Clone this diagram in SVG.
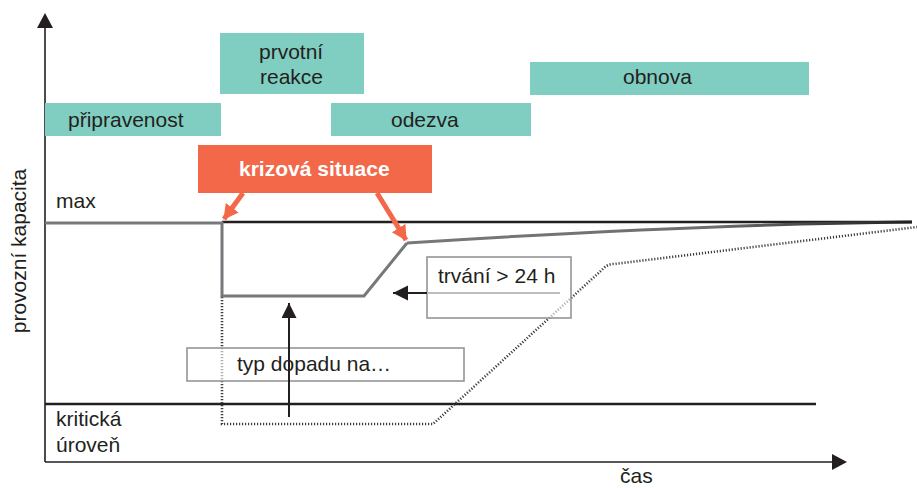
<svg xmlns="http://www.w3.org/2000/svg" width="917" height="488" viewBox="0 0 917 488">
  <defs>
    <style>
      text { font-family: "Liberation Sans", Arial, sans-serif; font-size: 21px; fill: #231f20; }
      .phase { fill: #80cdc1; }
      .crisis { fill: #f26849; }
      .crisis-text { fill: #ffffff; font-weight: bold; }
      .axis { stroke: #231f20; stroke-width: 1.6; fill: none; }
      .level { stroke: #231f20; stroke-width: 2.4; fill: none; }
      .capacity { stroke: #77787b; stroke-width: 3; fill: none; stroke-linejoin: miter; }
      .dotted { stroke: #3d3d3f; stroke-width: 2.6; stroke-dasharray: 1.2 1.8; fill: none; }
      .note { fill: #ffffff; fill-opacity: 0.6; stroke: #939598; stroke-width: 1.6; }
      .pointer { stroke: #231f20; stroke-width: 2; fill: none; }
      .red-arrow { stroke: #f26849; stroke-width: 5; fill: none; }
    </style>
    <marker id="redHead" markerUnits="userSpaceOnUse" markerWidth="16" markerHeight="18" refX="14" refY="8" orient="auto">
      <path d="M0,0 L15,8 L0,16 Z" fill="#f26849"/>
    </marker>
    <marker id="blackHead" markerUnits="userSpaceOnUse" markerWidth="16" markerHeight="16" refX="15" refY="7.5" orient="auto">
      <path d="M0,0 L15,7.5 L0,15 Z" fill="#231f20"/>
    </marker>
    <linearGradient id="recover" gradientUnits="userSpaceOnUse" x1="407" y1="0" x2="912" y2="0">
      <stop offset="0" stop-color="#77787b"/>
      <stop offset="0.6" stop-color="#6d6e71"/>
      <stop offset="1" stop-color="#231f20"/>
    </linearGradient>
  </defs>

  <!-- axes -->
  <g id="axes">
    <line class="axis" x1="45" y1="462" x2="45" y2="26"/>
    <path d="M45,13 L53,28 L37,28 Z" fill="#231f20"/>
    <line class="axis" x1="45" y1="462" x2="833" y2="462"/>
    <path d="M847,462 L832,454 L832,470 Z" fill="#231f20"/>
    <text x="26" y="251" transform="rotate(-90 26 251)" text-anchor="middle">provozní kapacita</text>
    <text x="620" y="483">čas</text>
  </g>

  <!-- phase bars -->
  <g id="pripravenost">
    <rect class="phase" x="45" y="103" width="176" height="33"/>
    <text x="68" y="127">připravenost</text>
  </g>
  <g id="prvotni-reakce">
    <rect class="phase" x="220" y="33" width="144" height="61"/>
    <text x="259" y="59">prvotní</text>
    <text x="260" y="84">reakce</text>
  </g>
  <g id="odezva">
    <rect class="phase" x="331" y="103" width="200" height="33"/>
    <text x="391" y="127">odezva</text>
  </g>
  <g id="obnova">
    <rect class="phase" x="530" y="62" width="279" height="33"/>
    <text x="623" y="84">obnova</text>
  </g>

  <!-- crisis label -->
  <g id="krizova-situace">
    <rect class="crisis" x="198" y="145" width="234" height="48"/>
    <text class="crisis-text" x="239" y="176">krizová situace</text>
  </g>

  <!-- reference levels -->
  <g id="levels">
    <line class="level" x1="222" y1="222" x2="912" y2="222"/>
    <line class="level" x1="45" y1="404" x2="816" y2="404"/>
    <text x="56" y="208">max</text>
    <text x="56" y="426">kritická</text>
    <text x="56" y="452">úroveň</text>
  </g>

  <!-- capacity curves -->
  <g id="curves">
    <path class="dotted" d="M222,297 L222,424 L433,424 L604,268 Q608,264 614,264 L917,227"/>
    <path class="capacity" d="M45,223 L222,223 L222,296 L364,296 L407,243"/>
    <path d="M407,243 Q700,224 912,222" stroke="url(#recover)" stroke-width="3" fill="none"/>
  </g>

  <!-- note boxes -->
  <g id="trvani">
    <rect class="note" x="427" y="257" width="144" height="61"/>
    <line x1="427" y1="293" x2="560" y2="293" stroke="#bcbec0" stroke-width="2"/>
    <text x="438" y="283">trvání &gt; 24 h</text>
  </g>
  <g id="typ-dopadu">
    <rect class="note" x="187" y="348" width="277" height="33"/>
    <text x="237" y="371">typ dopadu na…</text>
  </g>

  <!-- connectors -->
  <g id="connectors">
    <line class="red-arrow" x1="243" y1="193" x2="224" y2="219" marker-end="url(#redHead)"/>
    <line class="red-arrow" x1="377" y1="193" x2="406" y2="240" marker-end="url(#redHead)"/>
    <line class="pointer" x1="427" y1="293" x2="393" y2="293" marker-end="url(#blackHead)"/>
    <line class="pointer" x1="289" y1="417" x2="289" y2="303" marker-end="url(#blackHead)"/>
  </g>
</svg>
